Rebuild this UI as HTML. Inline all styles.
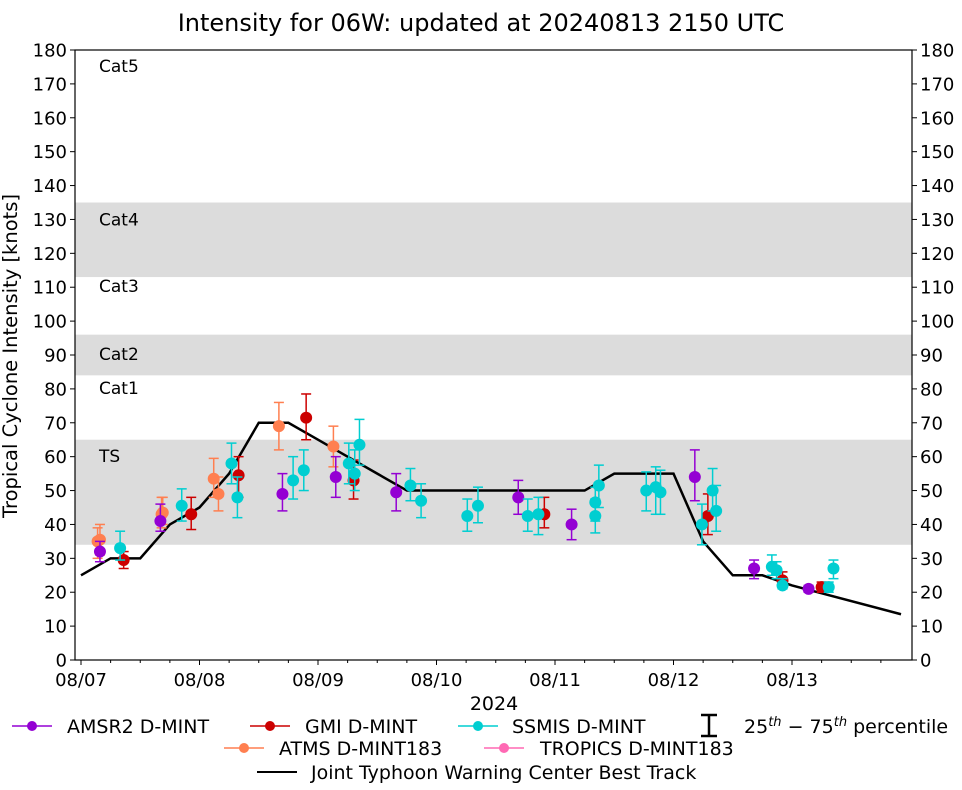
<!DOCTYPE html>
<html><head><meta charset="utf-8"><style>
body{margin:0;background:#fff}
svg{font-family:"DejaVu Sans","Liberation Sans",sans-serif}
</style></head><body>
<svg id="chart" width="962" height="785"></svg>
<script>
const bestT=[0,0.25,0.5,0.75,1.0,1.25,1.5,1.75,2.0,2.25,2.5,2.75,4.25,4.5,5.0,5.25,5.5,5.75,6.0,6.92];
const bestV=[25,30,30,40,45,55,70,70,65,60,55,50,50,55,55,35,25,25,22,13.5];
const amsrT=[0.16,0.67,1.70,2.15,2.66,3.69,4.14,5.18,5.68,6.14];
const amsrV=[32,41,49,54,49.5,48,40,54,27,21];
const amsrLo=[29,38,44,48,44,43,35.5,47,24,20];
const amsrHi=[35,46,55,60,55,53,44.5,62,29.5,22];
const gmiT=[0.36,0.93,1.33,1.90,2.30,3.91,5.29,5.92,6.25];
const gmiV=[29.5,43,54.5,71.5,53,43,42.5,23.5,21.5];
const gmiLo=[27,38.5,48,65,47.5,39,37,22,20];
const gmiHi=[32,48,60,78.5,59,48,49,26,23];
const atmsT=[0.14,0.16,0.68,0.69,1.12,1.16,1.67,2.13];
const atmsV=[35,35.5,43,43.5,53.5,49,69,63];
const atmsLo=[30,31,39,40,48,44,62,57];
const atmsHi=[39,40,48,48,59.5,54,76,69];
const ssT=[0.33,0.85,1.27,1.32,1.79,1.88,2.26,2.31,2.35,2.78,2.87,3.26,3.35,3.77,3.86,4.34,4.34,4.37,4.77,4.85,4.89,5.24,5.33,5.36,5.83,5.87,5.92,6.31,6.35];
const ssV=[33,45.5,58,48,53,56,58,55,63.5,51.5,47,42.5,45.5,42.5,43,42.5,46.5,51.5,50,51,49.5,40,50,44,27.5,26.5,22,21.5,27];
const ssLo=[29.5,41,52,42,47.5,50,52,50,57.5,47,42,38,40.5,38,37,37.5,41,45,44,43,43,34,44,38,25,24,21,20,24];
const ssHi=[38,50.5,64,54,60,62,64,62,71,56.5,52,47.5,51,47.5,48,47.5,51,57.5,55.5,57,56,46,56.5,51.5,31,29,24,23,29.5];
const yTicks=[0,10,20,30,40,50,60,70,80,90,100,110,120,130,140,150,160,170,180];
const xTickLabels=["08/07","08/08","08/09","08/10","08/11","08/12","08/13"];
const bands=[[34,65,"TS"],[84,96,"Cat2"],[113,135,"Cat4"]];
const catLabels=[["Cat5",175.3],["Cat4",130],["Cat3",110.4],["Cat2",90.3],["Cat1",80.3],["TS",60.2]];

const L=75,R=912,T=50,B=660;
const X=d=>81+d*118.5;
const Y=v=>B-(v/180)*(B-T);
const svg=document.getElementById('chart');
const NS='http://www.w3.org/2000/svg';
function mk(tag,attrs,parent){const e=document.createElementNS(NS,tag);for(const k in attrs)e.setAttribute(k,attrs[k]);(parent||svg).appendChild(e);return e;}
function txt(s,attrs,parent){const e=mk('text',attrs,parent);e.textContent=s;return e;}

for(const b of bands){const r=mk('rect',{x:L,y:Y(b[1]),width:R-L,height:Y(b[0])-Y(b[1]),fill:'#dcdcdc'});

}
for(const c of catLabels){const t=txt(c[0],{x:99,y:Y(c[1])+6,'font-size':17});

}

const bt=mk('polyline',{points:bestT.map((t,i)=>X(t)+','+Y(bestV[i])).join(' '),fill:'none',stroke:'#000','stroke-width':2.5});



function series(Ts,Vs,Lo,Hi,col,name){
  const g=mk('g',{});
  
  
  Ts.forEach((t,i)=>{const x=X(t);
    mk('line',{x1:x,x2:x,y1:Y(Lo[i]),y2:Y(Hi[i]),stroke:col,'stroke-width':1.5},g);
    mk('line',{x1:x-5,x2:x+5,y1:Y(Lo[i]),y2:Y(Lo[i]),stroke:col,'stroke-width':1.5},g);
    mk('line',{x1:x-5,x2:x+5,y1:Y(Hi[i]),y2:Y(Hi[i]),stroke:col,'stroke-width':1.5},g);
    const c=mk('circle',{cx:x,cy:Y(Vs[i]),r:6,fill:col},g);
    
    
  });
}
series(atmsT,atmsV,atmsLo,atmsHi,'#ff7f50','atms');
series(amsrT,amsrV,amsrLo,amsrHi,'#9400d3','amsr2');
series(gmiT,gmiV,gmiLo,gmiHi,'#cc0000','gmi');
series(ssT,ssV,ssLo,ssHi,'#00ced1','ssmis');

const fr=mk('rect',{x:L,y:T,width:R-L,height:B-T,fill:'none',stroke:'#000','stroke-width':1.2});


for(const v of yTicks){const y=Y(v);
  mk('line',{x1:L-5,x2:L,y1:y,y2:y,stroke:'#000'});
  mk('line',{x1:R,x2:R+5,y1:y,y2:y,stroke:'#000'});
  const a=txt(v,{x:L-8,y:y+6.5,'font-size':18,'text-anchor':'end'});
  
  
  const b=txt(v,{x:R+8,y:y+6.5,'font-size':18});
  
  
}
for(let q=0;q<=27;q++){const x=X(q/4);if(x>R)break;
  mk('line',{x1:x,x2:x,y1:B,y2:B+(q%4===0?5:3),stroke:'#000'});}
xTickLabels.forEach((s,i)=>{const x=X(i);
  const t=txt(s,{x:x,y:B+26,'font-size':18,'text-anchor':'middle'});
  
  
});
</script>
<svg width="962" height="785" style="position:absolute;left:0;top:0">
<text x="481" y="31" font-size="24" text-anchor="middle" font-family="DejaVu Sans, Liberation Sans, sans-serif">Intensity for 06W: updated at 20240813 2150 UTC</text>
<text x="494" y="710" font-size="19" text-anchor="middle" font-family="DejaVu Sans, Liberation Sans, sans-serif">2024</text>
<text transform="translate(17,356) rotate(-90)" font-size="19.5" text-anchor="middle" font-family="DejaVu Sans, Liberation Sans, sans-serif">Tropical Cyclone Intensity [knots]</text>
<g font-size="19" font-family="DejaVu Sans, Liberation Sans, sans-serif">
<g><line x1="12" x2="52" y1="726" y2="726" stroke="#9400d3" stroke-width="1.5"/><circle cx="32" cy="726" r="5" fill="#9400d3"/><text x="67" y="733">AMSR2 D-MINT</text></g>
<g><line x1="250" x2="290" y1="726" y2="726" stroke="#cc0000" stroke-width="1.5"/><circle cx="270" cy="726" r="5" fill="#cc0000"/><text x="305" y="733">GMI D-MINT</text></g>
<g><line x1="458" x2="498" y1="726" y2="726" stroke="#00ced1" stroke-width="1.5"/><circle cx="478" cy="726" r="5" fill="#00ced1"/><text x="512" y="733">SSMIS D-MINT</text></g>
<g><line x1="709" x2="709" y1="715" y2="736" stroke="#000" stroke-width="2.5"/><line x1="701" x2="717" y1="715" y2="715" stroke="#000" stroke-width="2.5"/><line x1="701" x2="717" y1="736" y2="736" stroke="#000" stroke-width="2.5"/><text x="744" y="733">25<tspan font-size="13" dy="-7" font-style="italic">th</tspan><tspan dy="7"> − 75</tspan><tspan font-size="13" dy="-7" font-style="italic">th</tspan><tspan dy="7"> percentile</tspan></text></g>
<g><line x1="224" x2="264" y1="748" y2="748" stroke="#ff7f50" stroke-width="1.5"/><circle cx="244" cy="748" r="5" fill="#ff7f50"/><text x="279" y="755">ATMS D-MINT183</text></g>
<g><line x1="484" x2="524" y1="748" y2="748" stroke="#ff69b4" stroke-width="1.5"/><circle cx="504" cy="748" r="5" fill="#ff69b4"/><text x="540" y="755">TROPICS D-MINT183</text></g>
<g><line x1="257" x2="297" y1="772" y2="772" stroke="#000" stroke-width="2"/><text x="311" y="779">Joint Typhoon Warning Center Best Track</text></g>
</g>
</svg>
</body></html>
